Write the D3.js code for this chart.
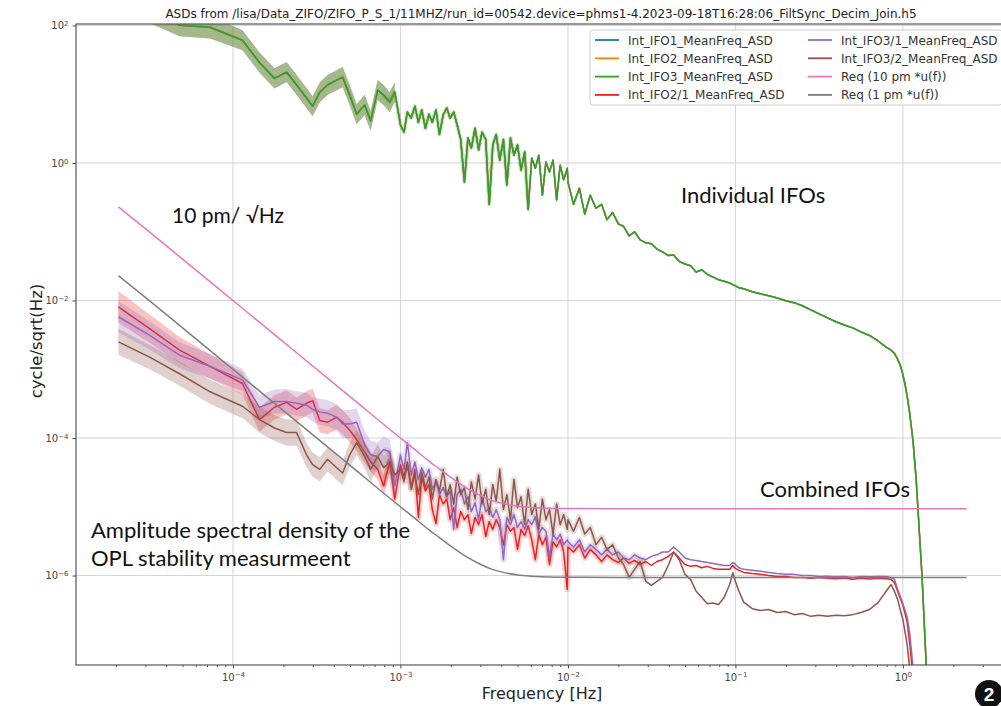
<!DOCTYPE html>
<html>
<head>
<meta charset="utf-8">
<script src="https://cdn.jsdelivr.net/npm/d3@7"></script>
<style>
  body { margin: 0; background: #fff; }
  svg { display: block; }
</style>
</head>
<body>
<script>
// ASD values (cycle/sqrt(Hz) vs Hz)

// shared frequency bins of the measured spectra
const freqHz = [
  2.07e-5, 3.18e-5, 4.8e-5, 7.3e-5, 1.14e-4, 1.44e-4, 1.77e-4, 2.09e-4, 2.40e-4, 2.75e-4,
  2.99e-4, 3.30e-4, 3.67e-4, 4.16e-4, 4.52e-4, 4.98e-4, 5.48e-4, 6.11e-4, 6.64e-4, 7.31e-4,
  7.94e-4, 8.63e-4, 9.25e-4,
  1.00e-3, 1.05e-3, 1.10e-3, 1.16e-3, 1.22e-3, 1.28e-3, 1.34e-3, 1.41e-3, 1.48e-3, 1.55e-3,
  1.63e-3, 1.71e-3, 1.80e-3, 1.89e-3, 1.98e-3, 2.08e-3, 2.18e-3, 2.29e-3, 2.41e-3, 2.53e-3,
  2.65e-3, 2.79e-3, 2.93e-3, 3.07e-3, 3.23e-3, 3.39e-3, 3.56e-3, 3.73e-3, 3.92e-3, 4.12e-3,
  4.32e-3, 4.54e-3, 4.76e-3, 5.00e-3, 5.25e-3, 5.52e-3, 5.79e-3, 6.08e-3, 6.39e-3, 6.70e-3,
  7.04e-3, 7.39e-3, 7.76e-3, 8.15e-3, 8.56e-3, 8.99e-3, 9.43e-3, 9.91e-3,
  1.0e-2, 1.08e-2, 1.17e-2, 1.26e-2, 1.36e-2, 1.47e-2, 1.59e-2, 1.71e-2, 1.85e-2, 2.0e-2,
  2.15e-2, 2.32e-2, 2.5e-2, 2.7e-2, 2.92e-2, 3.15e-2, 3.4e-2, 3.67e-2, 3.97e-2, 4.28e-2,
  4.62e-2, 5.0e-2, 5.4e-2, 5.83e-2, 6.3e-2, 6.8e-2, 7.34e-2, 7.93e-2, 8.56e-2, 9.24e-2, 9.65e-2,
  0.1, 0.105, 0.112, 0.126, 0.141, 0.158, 0.178, 0.2, 0.224, 0.251,
  0.282, 0.316, 0.355, 0.398, 0.447, 0.501, 0.562, 0.631, 0.708, 0.794,
  0.85, 0.89, 0.93, 0.97, 1.0, 1.03, 1.06, 1.1, 1.15, 1.2, 1.3, 1.4, 1.5
]

// IFO1 / IFO2 / IFO3 single interferometers lie on top of each other
const individualAsd = [
  224, 158, 101, 94, 61, 29, 17, 21, 13.6, 8.8,
  6.7, 10.7, 13.6, 16, 17.7, 9.7, 5.1, 7.0, 4.1, 11.5,
  9.7, 7.7, 10.7,
  3.6, 2.8, 5.5, 4.5, 6.7, 3.9, 5.9, 3.2, 5.1, 3.9,
  5.9, 2.6, 5.0, 6.3, 4.5, 5.5, 3.6, 2.2, 0.53, 2.3,
  1.65, 3.2, 1.55, 2.8, 2.2, 0.25, 1.83, 2.6, 1.1, 2.2,
  0.48, 2.3, 1.3, 1.83, 0.79, 1.45, 0.21, 1.18, 0.84, 1.3,
  0.34, 1.03, 0.74, 1.1, 0.29, 0.93, 0.57, 0.84,
  0.53, 0.25, 0.43, 0.18, 0.34, 0.22, 0.25, 0.15, 0.19, 0.13,
  0.12, 0.087, 0.10, 0.076, 0.069, 0.067, 0.056, 0.051, 0.045, 0.046,
  0.037, 0.034, 0.032, 0.026, 0.028, 0.024, 0.022, 0.020, 0.019, 0.018, 0.017,
  0.0163, 0.0153, 0.0148, 0.0134, 0.0125, 0.0117, 0.0109, 0.0099, 0.0093, 0.0084,
  0.0073, 0.0064, 0.0056, 0.0049, 0.0044, 0.0040, 0.0035, 0.0031, 0.0026, 0.0021,
  0.0019, 0.0017, 0.0014, 0.0011, 8.3e-4, 6.0e-4, 4.1e-4, 2.2e-4, 8.9e-5, 2.5e-5, 1.0e-6, 2.2e-8, 5e-10
]

const ifo21Asd = [
  8.1e-3, 3.9e-3, 1.9e-3, 1.1e-3, 6.2e-4, 1.85e-4, 2.8e-4, 3.3e-4, 2.6e-4, 3.2e-4,
  3.5e-4, 1.8e-4, 1.7e-4, 2.0e-4, 1.7e-4, 1.3e-4, 9.5e-5, 6.3e-5, 4.5e-5, 3.5e-5,
  2.0e-5, 4.5e-5, 1.3e-5,
  4.1e-5, 2.7e-5, 4.5e-5, 1.9e-5, 3.5e-5, 7.0e-6, 2.7e-5, 1.7e-5, 2.1e-5, 9.1e-6,
  5.7e-6, 1.5e-5, 1.1e-5, 1.3e-5, 6.5e-6, 9.7e-6, 5.0e-6, 8.5e-6, 6.5e-6, 7.7e-6,
  4.1e-6, 7.0e-6, 5.5e-6, 7.7e-6, 3.7e-6, 6.1e-6, 4.7e-6, 6.5e-6, 5.0e-6, 2.8e-6,
  5.5e-6, 4.4e-6, 5.0e-6, 2.4e-6, 4.7e-6, 3.8e-6, 5.3e-6, 3.3e-6, 1.7e-6, 4.0e-6,
  2.8e-6, 3.6e-6, 1.45e-6, 3.1e-6, 2.6e-6, 3.3e-6, 2.2e-6, 6.3e-7,
  2.6e-6, 2.2e-6, 2.8e-6, 1.8e-6, 2.4e-6, 2.0e-6, 1.6e-6, 2.0e-6, 1.7e-6, 1.55e-6,
  1.8e-6, 1.5e-6, 1.66e-6, 1.45e-6, 1.6e-6, 1.4e-6, 1.6e-6, 1.7e-6, 1.9e-6, 2.2e-6,
  1.8e-6, 1.45e-6, 1.36e-6, 1.4e-6, 1.3e-6, 1.36e-6, 1.27e-6, 1.23e-6, 1.23e-6, 1.23e-6, 1.4e-6,
  1.27e-6, 1.19e-6, 1.11e-6, 1.07e-6, 1.04e-6, 1.0e-6, 9.7e-7, 9.7e-7, 9.4e-7, 9.4e-7,
  9.1e-7, 9.4e-7, 9.1e-7, 9.0e-7, 9.2e-7, 8.8e-7, 9.1e-7, 8.9e-7, 9.1e-7, 9.0e-7,
  8.8e-7, 7.9e-7, 5.9e-7, 4.5e-7, 3.7e-7, 2.8e-7, 2.1e-7, 1.0e-7, 3.1e-8, 8e-9, 5e-10, 2e-11, 1e-12
]

const ifo31Asd = [
  5.8e-3, 3.1e-3, 1.6e-3, 1.1e-3, 7.0e-4, 2.8e-4, 3.4e-4, 3.4e-4, 3.2e-4, 3.0e-4,
  2.6e-4, 2.4e-4, 2.3e-4, 2.0e-4, 1.6e-4, 1.6e-4, 1.7e-4, 8.0e-5, 5.7e-5, 5.4e-5,
  6.8e-5, 6.3e-5, 2.0e-5,
  5.7e-5, 3.5e-5, 8.6e-5, 2.9e-5, 4.5e-5, 2.5e-5, 3.7e-5, 2.7e-5, 3.5e-5, 1.8e-5,
  2.3e-5, 1.5e-5, 1.9e-5, 1.4e-5, 1.7e-5, 4.7e-6, 1.5e-5, 1.8e-5, 1.1e-5, 1.4e-5,
  8.5e-6, 1.15e-5, 6.5e-6, 1.4e-5, 8.5e-6, 9.7e-6, 7.0e-6, 9.1e-6, 6.5e-6, 1.7e-6,
  7.0e-6, 5.5e-6, 7.7e-6, 5.0e-6, 6.1e-6, 4.7e-6, 6.5e-6, 5.5e-6, 7.2e-6, 4.0e-6,
  5.0e-6, 4.4e-6, 1.9e-6, 4.0e-6, 3.3e-6, 4.0e-6, 2.8e-6, 3.3e-6,
  3.1e-6, 2.6e-6, 3.3e-6, 2.2e-6, 2.8e-6, 2.4e-6, 2.0e-6, 2.4e-6, 2.0e-6, 2.2e-6,
  1.8e-6, 1.7e-6, 2.0e-6, 1.8e-6, 1.7e-6, 1.9e-6, 2.0e-6, 2.2e-6, 2.2e-6, 2.6e-6,
  2.2e-6, 1.8e-6, 1.7e-6, 1.66e-6, 1.6e-6, 1.55e-6, 1.5e-6, 1.45e-6, 1.4e-6, 1.4e-6, 1.55e-6,
  1.45e-6, 1.3e-6, 1.23e-6, 1.19e-6, 1.15e-6, 1.11e-6, 1.07e-6, 1.04e-6, 1.04e-6, 1.0e-6,
  1.0e-6, 9.7e-7, 9.8e-7, 9.6e-7, 9.7e-7, 9.4e-7, 9.7e-7, 9.6e-7, 9.7e-7, 9.7e-7,
  9.4e-7, 8.8e-7, 6.3e-7, 4.8e-7, 3.9e-7, 3.1e-7, 2.5e-7, 1.4e-7, 4.6e-8, 1.1e-8, 8e-10, 2e-11, 1e-12
]

const ifo32Asd = [
  2.5e-3, 1.5e-3, 8.6e-4, 4.7e-4, 2.9e-4, 1.85e-4, 1.4e-4, 1.2e-4, 1.2e-4, 5.7e-5,
  4.1e-5, 3.5e-5, 4.9e-5, 3.7e-5, 3.1e-5, 5.7e-5, 8.6e-5, 5.4e-5, 3.5e-5, 5.4e-5,
  3.7e-5, 4.5e-5, 2.9e-5,
  3.5e-5, 2.3e-5, 4.1e-5, 1.8e-5, 2.9e-5, 1.5e-5, 3.2e-5, 1.9e-5, 2.7e-5, 1.3e-5,
  2.5e-5, 1.7e-5, 3.5e-5, 1.4e-5, 2.1e-5, 1.1e-5, 2.7e-5, 1.5e-5, 1.9e-5, 9.1e-6,
  2.3e-5, 1.3e-5, 2.9e-5, 1.1e-5, 1.8e-5, 7.7e-6, 2.1e-5, 1.2e-5, 3.5e-5, 9.1e-6,
  1.5e-5, 6.5e-6, 2.5e-5, 9.7e-6, 1.4e-5, 5.5e-6, 1.8e-5, 7.7e-6, 1.1e-5, 4.7e-6,
  1.3e-5, 6.5e-6, 9.1e-6, 4.0e-6, 1.1e-5, 5.5e-6, 7.7e-6, 4.7e-6,
  6.5e-6, 4.4e-6, 7.0e-6, 4.0e-6, 5.0e-6, 2.8e-6, 3.6e-6, 2.4e-6, 2.8e-6, 1.8e-6,
  1.45e-6, 9.4e-7, 1.23e-6, 1.6e-6, 8.2e-7, 7.2e-7, 8.2e-7, 9.4e-7, 1.4e-6, 2.2e-6,
  1.7e-6, 1.04e-6, 8.8e-7, 5.9e-7, 4.8e-7, 3.9e-7, 4.0e-7, 3.8e-7, 4.8e-7, 7.4e-7, 1.1e-6,
  8.2e-7, 5.9e-7, 4.1e-7, 3.3e-7, 3.1e-7, 3.2e-7, 2.9e-7, 3.0e-7, 2.7e-7, 2.8e-7,
  2.55e-7, 2.65e-7, 2.55e-7, 2.65e-7, 2.6e-7, 2.7e-7, 2.9e-7, 3.2e-7, 4.0e-7, 5.9e-7,
  7.4e-7, 5.9e-7, 4.5e-7, 3.0e-7, 2.3e-7, 1.5e-7, 1.0e-7, 4.3e-8, 8e-9, 5e-10, 4e-11, 4e-12, 1e-12
]

// spread (x / ÷ factor) of the shaded bands over the coarse low-frequency bins
const spreadIndividual = [1.45, 1.45, 1.45, 1.45, 1.4, 1.4, 1.4, 1.4, 1.4, 1.4, 1.4, 1.4, 1.4, 1.4, 1.4, 1.4, 1.4, 1.4, 1.4, 1.4, 1.4, 1.4, 1.4]
const spread21 = [1.7, 1.6, 1.55, 1.5, 1.45, 1.5, 1.5, 1.5, 1.5, 1.5, 1.5, 1.5, 1.5, 1.5, 1.5, 1.5, 1.45, 1.45, 1.4, 1.4, 1.4, 1.4, 1.4]
const spread31 = [1.7, 1.6, 1.55, 1.5, 1.45, 1.5, 1.5, 1.5, 1.5, 1.5, 1.5, 1.55, 1.55, 1.55, 1.6, 1.6, 1.6, 1.6, 1.6, 1.6, 1.55, 1.5, 1.5]
const spread32 = [1.55, 1.5, 1.5, 1.5, 1.5, 1.55, 1.55, 1.55, 1.55, 1.5, 1.5, 1.5, 1.5, 1.5, 1.5, 1.5, 1.5, 1.5, 1.5, 1.5, 1.5, 1.5, 1.5]

// requirement curves
const reqFreq = [2.07e-5, 3e-5, 5e-5, 1e-4, 2e-4, 5e-4, 1e-3, 1.2e-3, 1.5e-3, 1.7e-3, 2e-3, 2.5e-3, 3e-3, 3.5e-3, 4e-3, 5e-3, 6e-3, 7e-3, 1e-2, 2e-2, 0.1, 1, 2.4]
const req10pm = [0.23, 0.111, 0.04, 0.01, 2.5e-3, 4.0e-4, 1.0e-4, 7.0e-5, 4.5e-5, 3.6e-5, 2.67e-5, 1.85e-5, 1.46e-5, 1.24e-5, 1.13e-5, 1.02e-5, 9.8e-6, 9.6e-6, 9.45e-6, 9.4e-6, 9.4e-6, 9.4e-6, 9.4e-6]
const req1pm = [0.023, 0.0111, 0.004, 0.001, 2.5e-4, 4.0e-5, 1.0e-5, 7.0e-6, 4.5e-6, 3.6e-6, 2.67e-6, 1.85e-6, 1.46e-6, 1.24e-6, 1.13e-6, 1.02e-6, 9.8e-7, 9.6e-7, 9.45e-7, 9.4e-7, 9.4e-7, 9.4e-7, 9.4e-7]

const legendNames = ["Int_IFO1_MeanFreq_ASD", "Int_IFO2_MeanFreq_ASD", "Int_IFO3_MeanFreq_ASD", "Int_IFO2/1_MeanFreq_ASD",
                     "Int_IFO3/1_MeanFreq_ASD", "Int_IFO3/2_MeanFreq_ASD", "Req (10 pm *u(f))", "Req (1 pm *u(f))"]
const xTickVals = [1e-4, 1e-3, 1e-2, 1e-1, 1]
const yTickVals = [1e-6, 1e-4, 1e-2, 1, 100]
const titleText = "ASDs from /lisa/Data_ZIFO/ZIFO_P_S_1/11MHZ/run_id=00542.device=phms1-4.2023-09-18T16:28:06_FiltSync_Decim_Join.h5"

// ---------------------------------------------------------------
const WD = 1001, HT = 706
const plot = { left: 76, top: 24, right: 1009, bottom: 665 }

const svg = d3.select("body").append("svg")
  .attr("width", WD).attr("height", HT)
svg.append("rect").attr("width", WD).attr("height", HT).attr("fill", "#fff")

const x = d3.scaleLog().domain([1.156e-5, 4.3]).range([plot.left, plot.right])
const y = d3.scaleLog().domain([5e-8, 105]).range([plot.bottom, plot.top])

svg.append("clipPath").attr("id", "clip")
  .append("rect")
  .attr("x", plot.left).attr("y", plot.top)
  .attr("width", plot.right - plot.left).attr("height", plot.bottom - plot.top)

// grid
const grid = svg.append("g").attr("stroke", "#d4d4d4").attr("stroke-width", 1)
grid.selectAll(".gx").data(xTickVals).enter().append("line")
  .attr("x1", d => x(d)).attr("x2", d => x(d))
  .attr("y1", plot.top).attr("y2", plot.bottom)
grid.selectAll(".gy").data(yTickVals).enter().append("line")
  .attr("y1", d => y(d)).attr("y2", d => y(d))
  .attr("x1", plot.left).attr("x2", plot.right)

// series  (halo = blurred band around the noisy mid-frequency bins)
const series = [
  { name: legendNames[0], color: "#1f77b4", values: individualAsd, spread: spreadIndividual, halo: [20, 60, 0.1, 4] },
  { name: legendNames[1], color: "#ff7f0e", values: individualAsd, spread: spreadIndividual, halo: [20, 60, 0.1, 4] },
  { name: legendNames[2], color: "#2ca02c", values: individualAsd, spread: spreadIndividual, halo: [20, 60, 0.1, 4] },
  { name: legendNames[3], color: "#ec1f1f", values: ifo21Asd, spread: spread21, halo: [20, 86, 0.2, 6] },
  { name: legendNames[4], color: "#9467bd", values: ifo31Asd, spread: spread31, halo: [20, 86, 0.2, 6] },
  { name: legendNames[5], color: "#8c564b", values: ifo32Asd, spread: spread32, halo: [20, 86, 0.2, 6] }
]

const plotG = svg.append("g").attr("clip-path", "url(#clip)")

const line = d3.line().x(d => x(d[0])).y(d => y(d[1]))
const band = d3.area().x(d => x(d[0])).y0(d => y(d[1] / d[2])).y1(d => y(d[1] * d[2]))

series.forEach(s => {
  const pts = freqHz.map((f, i) => [f, s.values[i]]).filter(d => d[1] !== undefined)
  const bandPts = s.spread.map((k, i) => [freqHz[i], s.values[i], k])
  plotG.append("path").datum(bandPts)
    .attr("d", band).attr("fill", s.color).attr("fill-opacity", 0.27)
  plotG.append("path").datum(pts.slice(s.halo[0], s.halo[1]))
    .attr("d", line).attr("fill", "none")
    .attr("stroke", s.color).attr("stroke-opacity", s.halo[2])
    .attr("stroke-width", s.halo[3]).attr("stroke-linejoin", "round")
  plotG.append("path").datum(pts)
    .attr("d", line).attr("fill", "none")
    .attr("stroke", s.color).attr("stroke-width", 1.5).attr("stroke-linejoin", "round")
})

const reqLine = d3.line().x(d => x(d[0])).y(d => y(d[1])).curve(d3.curveMonotoneX)
const reqs = [
  { name: legendNames[6], color: "#e377c2", values: req10pm },
  { name: legendNames[7], color: "#7f7f7f", values: req1pm }
]
reqs.forEach(r => {
  plotG.append("path").datum(reqFreq.map((f, i) => [f, r.values[i]]))
    .attr("d", reqLine).attr("fill", "none")
    .attr("stroke", r.color).attr("stroke-width", 1.5)
})

// axes
function supLabel(sel) {
  sel.each(function(d) {
    const e = Math.round(Math.log10(d))
    const t = d3.select(this).text(null)
    t.append("tspan").text("10")
    t.append("tspan").attr("dy", "-0.45em").attr("font-size", "7px")
      .text(e < 0 ? "\u2212" + (-e) : String(e))
  })
}

const gx = svg.append("g").attr("transform", "translate(0," + plot.bottom + ")")
  .call(d3.axisBottom(x).tickValues(xTickVals).tickSize(3.5).tickPadding(5))
gx.select(".domain").remove()
gx.selectAll(".tick line").attr("stroke", "#444")
gx.selectAll(".tick text").attr("font-family", "DejaVu Sans").attr("font-size", 10).attr("fill", "#444").call(supLabel)

const minor = x.ticks().filter(d => !xTickVals.includes(d))
const gxm = svg.append("g").attr("transform", "translate(0," + plot.bottom + ")")
  .call(d3.axisBottom(x).tickValues(minor).tickSize(2).tickFormat(""))
gxm.select(".domain").remove()
gxm.selectAll(".tick line").attr("stroke", "#555")

const gy = svg.append("g").attr("transform", "translate(" + plot.left + ",0)")
  .call(d3.axisLeft(y).tickValues(yTickVals).tickSize(3.5).tickPadding(4))
gy.select(".domain").remove()
gy.selectAll(".tick line").attr("stroke", "#444")
gy.selectAll(".tick text").attr("font-family", "DejaVu Sans").attr("font-size", 10).attr("fill", "#444").call(supLabel)

// frame
svg.append("rect")
  .attr("x", plot.left).attr("y", plot.top)
  .attr("width", plot.right - plot.left).attr("height", plot.bottom - plot.top)
  .attr("fill", "none").attr("stroke", "#555").attr("stroke-width", 1.2)

// labels
svg.append("text").attr("x", 541).attr("y", 18).attr("text-anchor", "middle")
  .attr("font-family", "DejaVu Sans").attr("font-size", 12).attr("fill", "#222")
  .text(titleText)
svg.append("text").attr("x", 542).attr("y", 699).attr("text-anchor", "middle")
  .attr("font-family", "DejaVu Sans").attr("font-size", 16).attr("fill", "#222")
  .text("Frequency [Hz]")
svg.append("text").attr("transform", "translate(42,341) rotate(-90)").attr("text-anchor", "middle")
  .attr("font-family", "DejaVu Sans").attr("font-size", 16.5).attr("fill", "#222")
  .text("cycle/sqrt(Hz)")

// annotations
const notes = [
  { text: "10 pm/ \u221AHz", x: 172, y: 223, size: 21 },
  { text: "Individual IFOs", x: 681, y: 203, size: 22 },
  { text: "Combined IFOs", x: 760, y: 497, size: 22 },
  { text: "Amplitude spectral density of the", x: 91, y: 538, size: 22 },
  { text: "OPL stability measurmeent", x: 91, y: 566, size: 22 }
]
svg.selectAll(".note").data(notes).enter().append("text")
  .attr("x", d => d.x).attr("y", d => d.y)
  .attr("font-family", "Lato").attr("font-size", d => d.size).attr("fill", "#111")
  .text(d => d.text)

// legend
const legend = svg.append("g")
legend.append("rect").attr("x", 590).attr("y", 30).attr("width", 412).attr("height", 75)
  .attr("rx", 3).attr("fill", "#fff").attr("fill-opacity", 0.85).attr("stroke", "#cfcfcf")
const legendColors = series.map(s => s.color).concat(reqs.map(r => r.color))
legendNames.forEach((n, i) => {
  const col = Math.floor(i / 4), row = i % 4
  const lx = col === 0 ? 595 : 808
  const ly = 40 + row * 18.3
  legend.append("line").attr("x1", lx).attr("x2", lx + 24).attr("y1", ly).attr("y2", ly)
    .attr("stroke", legendColors[i]).attr("stroke-width", 1.8)
  legend.append("text").attr("x", lx + 33).attr("y", ly + 4.5)
    .attr("font-family", "DejaVu Sans").attr("font-size", 12).attr("fill", "#333")
    .text(n)
})

// page badge
svg.append("circle").attr("cx", 989).attr("cy", 694).attr("r", 14).attr("fill", "#111")
svg.append("text").attr("x", 989).attr("y", 701).attr("text-anchor", "middle")
  .attr("font-family", "Liberation Sans").attr("font-weight", "bold").attr("font-size", 19)
  .attr("fill", "#fff").text("2")
</script>
</body>
</html>
